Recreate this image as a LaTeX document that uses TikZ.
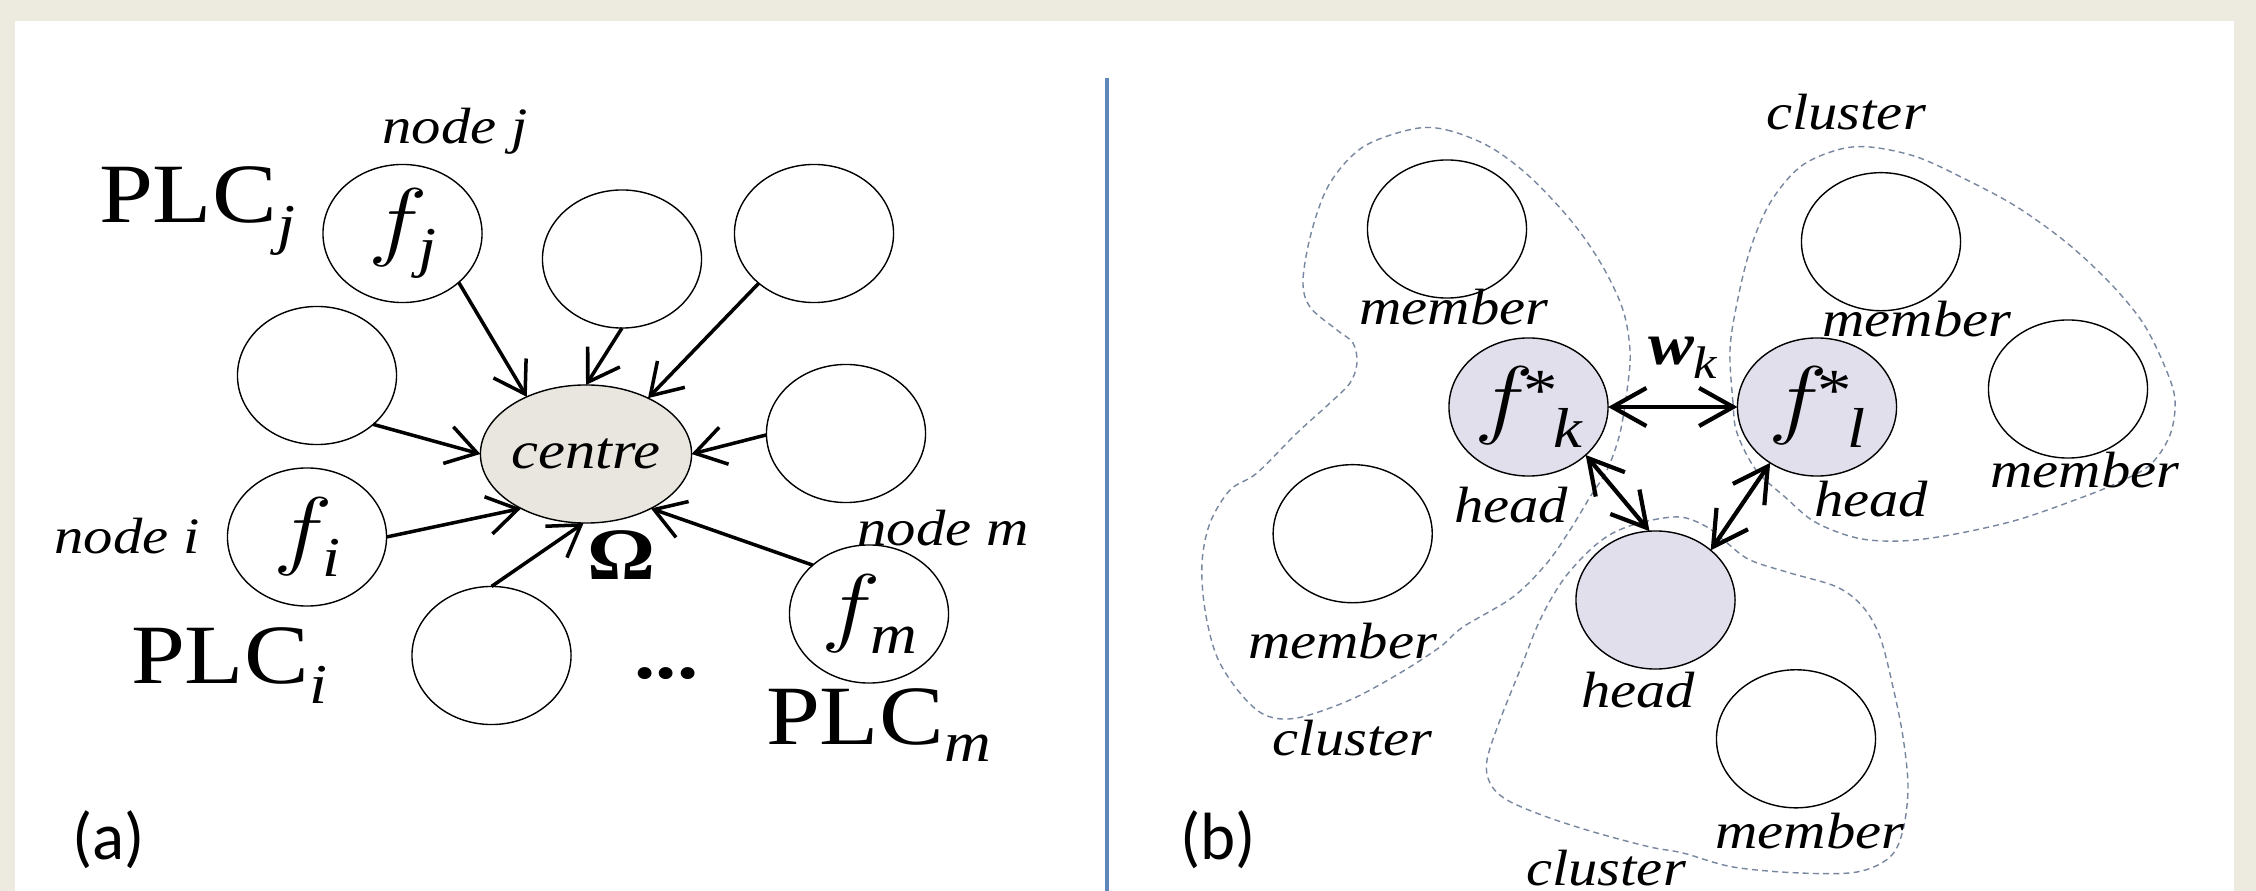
\documentclass[tikz,border=0pt]{standalone}
\usepackage{fontspec}
\setmainfont{Liberation Serif}
\newfontfamily\labelsans{Carlito}
\usepackage{graphicx}
\usetikzlibrary{shapes.geometric,arrows.meta}

\definecolor{pagebg}{RGB}{237,234,224}
\definecolor{hubfill}{RGB}{232,230,222}
\definecolor{headfill}{RGB}{226,223,236}
\definecolor{hullcol}{RGB}{120,135,160}
\definecolor{splitcol}{RGB}{96,135,186}

% font size helper and the slightly widened lettering used throughout
\newcommand\fs[1]{\fontsize{#1}{#1}\selectfont}
\newcommand\wide[1]{\scalebox{1.15}[1]{#1}}
% italic f with its tail below the baseline, followed by a tight subscript
\newcommand\ff{$f$\kern-2.5pt}

\begin{document}
\begin{tikzpicture}[x=0.01cm,y=-0.01cm,
  every node/.style={inner sep=0pt,outer sep=0pt},
  blob/.style={ellipse,draw,line width=0.4pt,minimum width=1.59cm,minimum height=1.38cm,fill=white},
  hubblob/.style={blob,fill=hubfill},
  headblob/.style={blob,fill=headfill},
  tag/.style={anchor=base,font={\fs{14.5}\itshape}},
  plc/.style={anchor=base west,font={\fs{24}}},
  panel/.style={font={\labelsans\fs{19}}},
  spoke/.style={line width=1pt,-{Straight Barb[length=0.3cm,width=0.38cm]}},
  link/.style={line width=1.2pt,{Straight Barb[length=0.34cm,width=0.38cm]}-{Straight Barb[length=0.34cm,width=0.38cm]}},
  hull/.style={draw=hullcol,line width=0.4pt,dash pattern=on 1.7pt off 1.2pt}
]
\useasboundingbox (0,0) rectangle (2256,891);
\fill[pagebg] (0,0) rectangle (2256,891);
\fill[white] (15,21) rectangle (2234,891);
\draw[splitcol,line width=0.95pt] (1107,78) -- (1107,891);

% ---------------- (a) star topology around the centre ----------------
\node[blob] (nj) at (402.5,233.5) {\raisebox{1pt}{\wide{\fs{25}\ff\raisebox{-5pt}{\fs{16}\itshape j}}}};
\node[blob] (a2) at (622,259) {};
\node[blob] (a3) at (814,233.5) {};
\node[blob] (a4) at (317,375.5) {};
\node[blob] (a5) at (846,433.5) {};
\node[blob] (ni) at (307,537) {\raisebox{-1pt}{\wide{\fs{25}\ff\raisebox{-5pt}{\fs{16}\itshape i}}}};
\node[blob] (a7) at (491.5,655.5) {};
\node[blob] (nm) at (869,614) {\wide{\fs{25}\ff\raisebox{-5pt}{\fs{16}\itshape m}}};
\node[hubblob] (hub) at (586,454) {\raisebox{-1.7pt}{\wide{\fs{15}\itshape centre}}};

\draw[spoke] (nj.-41) -- (hub.136);
\draw[spoke] (a2.-90) -- (hub.90);
\draw[spoke] (a3.-138) -- (hub.42);
\draw[spoke] (a4.-41) -- (hub.180);
\draw[spoke] (a5.181) -- (hub.0);
\draw[spoke] (ni.0) -- (hub.220);
\draw[spoke] (a7.90) -- (hub.268);
\draw[spoke] (nm.139) -- (hub.-40);

\node[tag] (tj) at (455,144) {\wide{node j}};
\node[tag] (ti) at (127,554) {\wide{node i}};
\node[tag] (tm) at (943,545) {\wide{node m}};
\node[plc] (pj) at (99,223) {\wide{PLC\raisebox{-5.7pt}{\fs{16}\itshape j}}};
\node[plc] (pi) at (131,683) {\wide{PLC\raisebox{-5.7pt}{\fs{16}\itshape i}}};
\node[plc] (pm) at (766,744) {\wide{PLC\raisebox{-5pt}{\fs{16}\itshape m}}};
\node[anchor=base] (omega) at (621.5,580) {\wide{\fs{21}\bfseries Ω}};
\node[anchor=base] (dots) at (666.5,678) {\wide{\fs{21}\bfseries ...}};
\node[panel] (pa) at (108.5,840) {(a)};

% ---------------- (b) clusters with elected heads ----------------
\draw[hull] plot[smooth cycle,tension=0.55] coordinates {
  (1413,129) (1447,130) (1490,147) (1530,177) (1573,223) (1603,267) (1623,310)
  (1630,350) (1628,383) (1620,433) (1607,470) (1590,497) (1570,530) (1547,563)
  (1513,597) (1463,627) (1440,647) (1400,673) (1350,700) (1297,718) (1265,715)
  (1240,693) (1217,657) (1205,610) (1202,563) (1210,523) (1230,490) (1257,473)
  (1297,433) (1330,403) (1350,383) (1357,363) (1353,343) (1337,330) (1310,307)
  (1303,280) (1312,230) (1330,183) (1363,147)};
\draw[hull] plot[smooth cycle,tension=0.55] coordinates {
  (1737,433) (1733,403) (1730,350) (1737,303) (1750,250) (1770,203) (1800,167)
  (1837,150) (1870,147) (1917,157) (1967,180) (2017,207) (2067,243) (2110,283)
  (2143,323) (2165,367) (2175,400) (2170,435) (2150,465) (2117,483) (2083,497)
  (2017,520) (1950,535) (1900,541) (1857,538) (1815,522) (1785,497) (1756,470)};
\draw[hull] plot[smooth cycle,tension=0.55] coordinates {
  (1613,533) (1643,522) (1680,517) (1707,527) (1727,543) (1750,560) (1790,573)
  (1837,587) (1863,607) (1880,637) (1893,687) (1903,737) (1908,787) (1903,830)
  (1890,857) (1857,872) (1800,873) (1733,867) (1683,853) (1650,847) (1597,833)
  (1547,817) (1507,800) (1490,783) (1487,760) (1500,720) (1520,670) (1540,620)
  (1563,580) (1590,550)};

\node[blob] (m1) at (1447,229) {};
\node[blob] (m2) at (1881,241.7) {};
\node[blob] (m3) at (2068,389) {};
\node[blob] (m4) at (1352.7,533.7) {};
\node[blob] (m5) at (1796,738.8) {};
\node[headblob] (hk) at (1528.5,407) {\wide{\fs{24}\ff\raisebox{5pt}{\fs{17}*}\kern-1pt\raisebox{-5.5pt}{\fs{16}\itshape k}}};
\node[headblob] (hl) at (1817,407) {\wide{\fs{24}\ff\raisebox{5pt}{\fs{17}*}\kern-1pt\raisebox{-5.5pt}{\fs{16}\itshape l}}};
\node[headblob] (hb) at (1655.5,600) {};

\draw[link] (hk.0) -- (hl.180);
\draw[link] (hk.-40) -- (hb.95);
\draw[link] (hl.230) -- (hb.42);

\node[anchor=base west] (wk) at (1648,365) {\wide{\fs{17}\bfseries\itshape w\raisebox{-3.7pt}{\mdseries\fs{13}k}}};

\node[tag] (c1) at (1846,130) {\wide{cluster}};
\node[tag] (c2) at (1352.5,755) {\wide{cluster}};
\node[tag] (c3) at (1606,885) {\wide{cluster}};
\node[tag] (r1) at (1454,325) {\wide{member}};
\node[tag] (r2) at (1917,337) {\wide{member}};
\node[tag] (r3) at (2085,488) {\wide{member}};
\node[tag] (r4) at (1342.5,658) {\wide{member}};
\node[tag] (r5) at (1810,848) {\wide{member}};
\node[tag] (h1) at (1511,522) {\wide{head}};
\node[tag] (h2) at (1871,517) {\wide{head}};
\node[tag] (h3) at (1638,708) {\wide{head}};
\node[panel] (pb) at (1218,840) {(b)};
\end{tikzpicture}
\end{document}
